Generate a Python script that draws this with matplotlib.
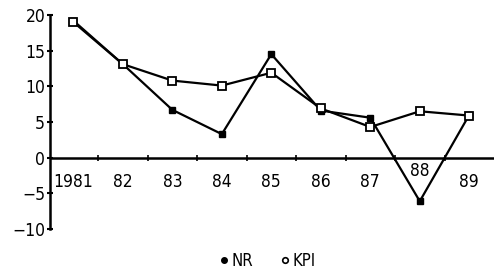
import numpy as np
import matplotlib
matplotlib.use('Agg')
import matplotlib.pyplot as plt
from matplotlib.lines import Line2D

plt.rcParams['font.family'] = ['DejaVu Sans']
plt.rcParams['font.stretch'] = 'condensed'

# data
years = ['1981', '82', '83', '84', '85', '86', '87', '88', '89']
nr = [19.2, 13.1, 6.7, 3.3, 14.5, 6.6, 5.6, -6.1, 6.0]
kpi = [19.0, 13.1, 10.8, 10.1, 11.9, 6.9, 4.3, 6.5, 5.9]

x = np.arange(len(years))

fig = plt.figure(figsize=(4.96, 2.76), dpi=100)
ax = fig.add_axes([0.101, 0.17, 0.895, 0.776])

ax.plot(x, nr, color='black', lw=1.6, marker='s', ms=4.5,
        mfc='black', mec='black', zorder=3)
ax.plot(x, kpi, color='black', lw=1.6, marker='s', ms=5.5,
        mfc='white', mec='black', mew=1.3, zorder=4)

ax.set_xlim(-0.47, len(years) - 0.5)
ax.set_ylim(-10, 20)

# axes: left spine and a zero line carrying the x ticks
for s in ['top', 'right', 'bottom']:
    ax.spines[s].set_visible(False)
ax.spines['left'].set_linewidth(1.8)
ax.axhline(0, color='black', lw=1.8, zorder=2)
ax.plot(x[:-1] + 0.5, np.zeros(len(x) - 1), ls='none', marker='|',
        ms=4, mew=1.2, color='black', zorder=2)

ax.set_yticks([-10, -5, 0, 5, 10, 15, 20])
ax.tick_params(axis='y', direction='inout', length=5, width=1.5,
               labelsize=12.5, pad=1)
ax.set_xticks([])

# year labels under the zero line
for i, lab in enumerate(years):
    yy = -1.9 if lab == '88' else -3.4
    ax.text(x[i], yy, lab, ha='center', va='center', fontsize=12.5)

handles = [Line2D([], [], ls='none', marker='o', ms=4, mfc='black', mec='black'),
           Line2D([], [], ls='none', marker='o', ms=4, mfc='white', mec='black', mew=1.2)]
fig.legend(handles, ['NR', 'KPI'], loc='center', bbox_to_anchor=(0.539, 0.054),
           ncol=2, frameon=False, fontsize=12, handlelength=0.6,
           handletextpad=0.15, columnspacing=1.6)

fig.savefig('out.png', dpi=100)
